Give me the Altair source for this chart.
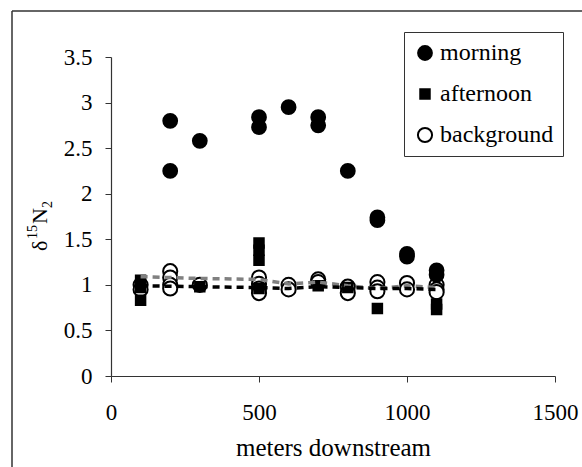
import altair as alt
import pandas as pd

# ---- data ----
morning_x = [200, 200, 300, 500, 500, 600, 700, 700, 800, 900, 900, 1000, 1000, 1100, 1100]
morning_y = [2.80, 2.25, 2.58, 2.84, 2.73, 2.95, 2.84, 2.75, 2.25, 1.74, 1.71, 1.34, 1.31, 1.16, 1.11]

afternoon_x = [100, 100, 100, 300, 500, 500, 500, 500, 700, 800, 900, 1100, 1100]
afternoon_y = [1.05, 0.97, 0.83, 0.98, 1.46, 1.38, 1.27, 0.96, 0.99, 0.97, 0.74, 0.79, 0.73]

background_x = [100, 100, 200, 200, 200, 200, 300, 500, 500, 500, 500, 600, 600,
                700, 700, 800, 800, 900, 900, 900, 1000, 1000, 1100, 1100, 1100]
background_y = [1.00, 0.95, 1.15, 1.08, 1.00, 0.96, 1.00, 1.08, 1.01, 0.96, 0.91, 1.00, 0.95,
                1.06, 1.03, 0.98, 0.91, 1.03, 0.97, 0.93, 1.02, 0.95, 1.00, 0.95, 0.92]

gray_line_x = [100, 200, 300, 500, 600, 700, 800, 900, 1000, 1100]
gray_line_y = [1.09, 1.08, 1.07, 1.06, 1.01, 1.03, 0.99, 0.96, 0.99, 0.97]

black_line_x = [100, 300, 500, 600, 700, 800, 900, 1000, 1100]
black_line_y = [0.99, 0.98, 0.97, 0.96, 0.98, 0.97, 0.96, 0.96, 0.95]

series = ["morning", "afternoon", "background"]
shapes = ["circle", "square", "circle"]
fills = ["black", "black", "white"]
strokes = ["black", "black", "black"]
sizes = [190, 90, 200]

x_ticks = [0, 500, 1000, 1500]
y_ticks = [0, 0.5, 1, 1.5, 2, 2.5, 3, 3.5]

# ---- tables ----
pts = pd.concat([
    pd.DataFrame({"x": background_x, "y": background_y, "series": "background"}),
    pd.DataFrame({"x": afternoon_x, "y": afternoon_y, "series": "afternoon"}),
    pd.DataFrame({"x": morning_x, "y": morning_y, "series": "morning"}),
], ignore_index=True)
pts["order"] = range(len(pts))

gray_df = pd.DataFrame({"x": gray_line_x, "y": gray_line_y})
black_df = pd.DataFrame({"x": black_line_x, "y": black_line_y})

FONT = "Liberation Serif"
FS = 23

xscale = alt.Scale(domain=[0, 1500], nice=False)
yscale = alt.Scale(domain=[0, 3.5], nice=False)

leg = alt.Legend(
    title=None, orient="none", legendX=293, legendY=-25,
    labelFont=FONT, labelFontSize=24, labelColor="black",
    strokeColor="#333", fillColor="white", padding=9,
    rowPadding=17, labelOffset=3, symbolStrokeWidth=2,
    labelLimit=300,
)

points = alt.Chart(pts).mark_point(filled=True, strokeWidth=2, opacity=1).encode(
    x=alt.X("x:Q", scale=xscale, axis=alt.Axis(
        values=x_ticks, format="d", title="meters downstream",
        titlePadding=11, titleFontSize=25)),
    y=alt.Y("y:Q", scale=yscale, axis=alt.Axis(
        values=y_ticks, format="~g", title=None)),
    shape=alt.Shape("series:N", scale=alt.Scale(domain=series, range=shapes), legend=leg),
    fill=alt.Fill("series:N", scale=alt.Scale(domain=series, range=fills), legend=leg),
    stroke=alt.Stroke("series:N", scale=alt.Scale(domain=series, range=strokes), legend=leg),
    size=alt.Size("series:N", scale=alt.Scale(type="ordinal", domain=series, range=sizes), legend=leg),
    order="order:Q",
)

gray_line = alt.Chart(gray_df).mark_line(
    color="#808080", strokeWidth=3.5, strokeDash=[7, 5]
).encode(x=alt.X("x:Q", scale=xscale), y=alt.Y("y:Q", scale=yscale))

black_line = alt.Chart(black_df).mark_line(
    color="black", strokeWidth=3.5, strokeDash=[7, 5]
).encode(x=alt.X("x:Q", scale=xscale), y=alt.Y("y:Q", scale=yscale))

# y-axis title  delta ^15 N _2 (rotated pieces)
def tpiece(txt, px, py, size):
    return alt.Chart(pd.DataFrame({"t": [txt]})).mark_text(
        angle=270, align="left", baseline="alphabetic",
        font=FONT, fontSize=size, color="black"
    ).encode(x=alt.value(px), y=alt.value(py), text="t:N")

title_parts = (
    tpiece("δ", -64, 194, 22)
    + tpiece("15", -74, 182, 14)
    + tpiece("N", -64, 167, 22)
    + tpiece("2", -59, 151, 14)
)

# outer figure frame (left and top edges)
frame_left = alt.Chart(pd.DataFrame({"a": [0]})).mark_rule(color="#333", strokeWidth=1.5).encode(
    x=alt.value(-99), y=alt.value(-46), y2=alt.value(420))
frame_top = alt.Chart(pd.DataFrame({"a": [0]})).mark_rule(color="#333", strokeWidth=1.5).encode(
    x=alt.value(-99), x2=alt.value(480), y=alt.value(-46))

chart = alt.layer(
    frame_left, frame_top, points, gray_line, black_line, title_parts
).properties(
    width=444, height=319,
    padding={"left": 111, "top": 57, "right": 27, "bottom": 91},
    autosize="none",
).configure_view(stroke=None).configure_axis(
    grid=False, domainColor="#333", tickColor="#333", domainWidth=1.2,
    tickSize=6, labelFont=FONT, labelFontSize=FS, labelColor="black",
    titleFont=FONT, titleFontSize=FS, titleFontWeight="normal", titleColor="black",
).configure_axisX(labelPadding=19, labelFlush=False).configure_axisY(labelPadding=13)

chart.save("out.html", embed_options={"renderer": "svg", "actions": False})
